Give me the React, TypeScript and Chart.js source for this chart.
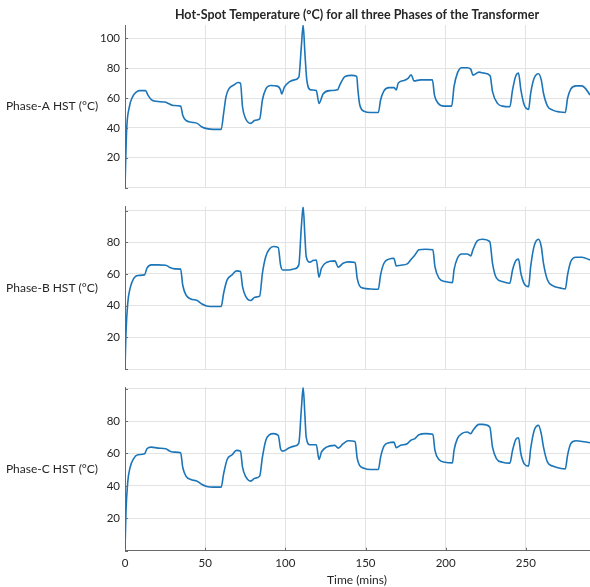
import React, { useEffect, useRef } from 'react';
import { Chart, registerables } from 'chart.js';

Chart.register(...registerables);

// ---- Data ----
const timeA = [0, 1, 2.7, 4.8, 7, 9, 12.8, 14.3, 16.4, 19.5, 24.8, 27, 30, 34.7, 36, 38, 41.6, 45, 48, 51, 55, 60, 61.5, 63, 64.7, 68, 70.4, 72, 73.3, 75.2, 78.4, 81, 84, 85.7, 87.8, 91, 95, 97, 97.7, 99.4, 102.5, 105.7, 108.4, 110, 111.1, 112.2, 113.4, 115.8, 119.3, 121, 123.5, 127.7, 132.6, 134, 137.2, 141.4, 144.5, 145.3, 146.3, 147.5, 149, 153, 158, 159.4, 161.5, 164.6, 167.7, 169.2, 170.4, 174, 176.7, 178.5, 180.2, 184.4, 191.7, 193, 195.4, 199, 203.75, 205.2, 207.3, 210, 213.5, 215.6, 217, 220.8, 224, 227.7, 229.2, 232.3, 235.4, 240, 241.7, 243.75, 245.4, 246.9, 249, 251.7, 253, 255.2, 257.9, 259.6, 261, 263.5, 266.7, 271.25, 274.6, 276, 278, 281.25, 285, 287.5, 290];
const phaseA = [0, 38, 54, 61, 64, 65, 65, 62, 59, 57.8, 57.3, 56.4, 55, 54.6, 48.5, 45, 43.8, 43, 40.6, 39.5, 39, 39, 49.7, 61, 66, 68.8, 70.4, 70, 54, 46.3, 43, 45, 46, 58.7, 66, 68.4, 68, 65.5, 62.7, 67.3, 70.9, 72.2, 74, 94.8, 109, 90, 72, 65.5, 65, 56.4, 62.7, 65, 65.5, 68.8, 74.5, 75.2, 74.5, 65, 56, 52.5, 51.2, 50.3, 50.3, 58.7, 64.8, 67, 67, 65.5, 70, 71.8, 73.4, 75.6, 71.5, 72.2, 72.2, 62, 56.4, 54.6, 54.6, 67.7, 76.7, 80.3, 80.3, 79.4, 75.4, 77.4, 76.7, 75, 64.3, 56.4, 54.6, 54.2, 65.5, 75, 76.7, 65.5, 55.3, 52.4, 63.2, 73.4, 76.3, 72.2, 63.2, 54.6, 51.9, 50.6, 50.3, 59.8, 66, 68.2, 68.2, 66, 62];

const timeB = [0, 0.6, 1.7, 3.2, 5.3, 8, 12.2, 13.7, 16.4, 20.6, 25.4, 28, 31.1, 34.7, 36, 38, 41, 45, 48, 51, 55, 60, 61.5, 63.7, 66.8, 69.5, 72, 73.3, 75.2, 78.4, 81, 84, 85.7, 87.8, 90, 92.6, 95.6, 97, 98.3, 102.5, 105.7, 108.4, 110, 111.1, 112.2, 113, 115.3, 117.2, 119.3, 121, 122.5, 125.6, 130.9, 133, 136, 139.3, 143.5, 144.8, 146.3, 149, 153, 158, 159.4, 161.5, 164.6, 167.7, 169.2, 171.9, 176, 178.1, 180.8, 183.3, 187.5, 192, 193.3, 195.8, 199.6, 204.2, 205.2, 207.3, 210, 213.5, 215.6, 217, 219.8, 222.9, 227.5, 229.2, 231.7, 235.4, 240, 241.7, 243.75, 245.4, 246.9, 249, 251.7, 253, 255.2, 257.9, 259.6, 261, 263.5, 266.7, 271.25, 274.6, 276, 278, 281.25, 285, 290];
const phaseB = [0, 22.5, 41.5, 51, 56.8, 59, 59.4, 63.6, 65.7, 65.7, 65.5, 64, 63.2, 63, 53, 46.7, 44.2, 43.2, 41, 39.8, 39.4, 39.4, 47.8, 56.2, 59.4, 61.9, 61.5, 52, 46, 43.2, 45.3, 46, 60.4, 71, 75.6, 77.3, 76.6, 65.7, 62.5, 62.5, 63.2, 65.7, 90, 102.4, 83.6, 71, 67.4, 68.4, 68.8, 57.9, 63.6, 67.2, 68.2, 64.2, 66.7, 67.6, 67.2, 57.3, 52.4, 50.9, 50.5, 50.3, 59.4, 66.7, 69.3, 69.9, 65, 65.5, 66.3, 68.8, 72, 75.2, 75.6, 75.2, 64.6, 57.3, 55.2, 54.5, 62.5, 69.9, 72.6, 72.6, 71.4, 75.2, 81, 81.9, 80.4, 66.7, 57.3, 55.2, 54.1, 62.5, 68.4, 69.3, 60.4, 53.7, 52, 64.6, 77.7, 81.9, 77.3, 66.7, 56.2, 52.6, 51.2, 50.5, 59.4, 67.8, 70.5, 70.5, 68.8];

const timeC = [0, 0.6, 1.7, 3.2, 5.3, 8, 12.2, 13.7, 16.4, 20.6, 25.4, 28, 31.1, 34.7, 36, 38, 41, 45, 48, 51, 55, 60, 61.5, 63.7, 66.8, 69.5, 72, 73.3, 75.2, 78.4, 81, 84, 85.7, 87.8, 90, 92.6, 95.6, 97, 98.3, 102.5, 105.7, 108.4, 110, 111.1, 112.2, 113, 115.3, 119.3, 121, 122.5, 125.6, 130.9, 133, 136, 139.3, 143.5, 144.8, 146.3, 149, 153, 158, 159.4, 161.5, 164.6, 167.7, 169.2, 171.9, 176, 178.1, 180.8, 183.3, 187.5, 192, 193.3, 195.8, 199.6, 204.2, 205.2, 207.3, 210, 213.5, 215.6, 217, 220.8, 222.9, 227.5, 229.2, 231.7, 235.4, 240, 241.7, 243.75, 245.4, 246.9, 249, 251.7, 253, 255.2, 257.9, 259.6, 261, 263.5, 266.7, 271.25, 274.6, 276, 278, 281.25, 285, 290];
const phaseC = [0, 23.7, 42.3, 51.5, 56.7, 59.2, 59.8, 62.9, 63.9, 63.3, 62.9, 61.4, 60.8, 60.4, 51.5, 46, 43.9, 42.9, 40.8, 39.6, 39.2, 39.2, 47.4, 56.3, 59.2, 61.9, 61.4, 51.5, 45.8, 42.9, 44.7, 46, 57.7, 68, 71.5, 72.2, 71.1, 62.9, 61.4, 63.5, 64.5, 66.4, 87.6, 100.8, 83.5, 70, 65.4, 65.4, 56.3, 60.8, 63.9, 65, 63.3, 66, 67.8, 67.4, 57.1, 52.6, 50.9, 50.1, 50.1, 57.7, 64.5, 66.6, 67, 63.5, 65, 66, 68, 69.1, 71.5, 72.2, 71.8, 61.9, 56.3, 54.6, 54.2, 61.9, 69.1, 72.2, 73.2, 72.2, 74.2, 77.9, 77.9, 76.3, 63.9, 56.7, 54.6, 54, 61.9, 68.7, 69.7, 59.8, 53.6, 52.2, 62.9, 74.2, 77.3, 72.2, 63.9, 54.6, 52.2, 50.9, 50.5, 58.8, 66, 67.8, 67.4, 66.6];

const xTickValues = [0, 50, 100, 150, 200, 250];
const yTickValues = [0, 20, 40, 60, 80, 100];
const yLabels = ['Phase-A HST (°C)', 'Phase-B HST (°C)', 'Phase-C HST (°C)'];
const titleText = 'Hot-Spot Temperature (°C) for all three Phases of the Transformer';
const xTitleText = 'Time (mins)';
const X_MAX = 290;
const yMaxes = [109, 102.4, 100.8];

// ---- Layout ----
const W = 590;
const H = 587;
const PLOT_LEFT = 125;
const panels = [
  { top: 25, bottom: 187.5 },
  { top: 206.7, bottom: 369 },
  { top: 387.3, bottom: 550.7 },
];
const FONT = 'Lato, "Open Sans", sans-serif';
const TEXT = '#262626';
const LINE = '#1b75b8';
const GRID = '#e3e3e3';
const AXIS = '#6a6a6a';

function PanelChart({ idx }: { idx: number }) {
  const ref = useRef<HTMLCanvasElement | null>(null);
  useEffect(() => {
    const canvas = ref.current;
    if (!canvas) return;
    const times = [timeA, timeB, timeC][idx];
    const vals = [phaseA, phaseB, phaseC][idx];
    const p = panels[idx];
    const showX = idx === 2;
    const xH = showX ? H - p.bottom : 0;
    const textPlugin = {
      id: 'panelText' + idx,
      afterDraw(chart: any) {
        const ctx = chart.ctx;
        const area = chart.chartArea;
        const ys = chart.scales.y;
        const xs = chart.scales.x;
        ctx.save();
        // inward tick marks (MATLAB style)
        ctx.strokeStyle = AXIS;
        ctx.lineWidth = 1;
        ctx.beginPath();
        yTickValues.forEach((v) => {
          if (v > ys.max) return;
          const py = Math.round(ys.getPixelForValue(v)) + 0.5;
          ctx.moveTo(area.left, py);
          ctx.lineTo(area.left + 3, py);
        });
        if (showX) {
          xTickValues.forEach((v) => {
            const px = Math.round(xs.getPixelForValue(v)) + 0.5;
            ctx.moveTo(px, area.bottom);
            ctx.lineTo(px, area.bottom - 3);
          });
        }
        ctx.stroke();
        ctx.fillStyle = TEXT;
        ctx.textAlign = 'center';
        ctx.textBaseline = 'middle';
        ctx.font = '12px ' + FONT;
        ctx.fillText(yLabels[idx], 52, (p.top + p.bottom) / 2);
        if (idx === 0) {
          ctx.font = 'bold 12.5px ' + FONT;
          ctx.fillText(titleText, 357, 15);
        }
        if (showX) {
          ctx.font = '12px ' + FONT;
          ctx.fillText(xTitleText, 357, 580);
        }
        ctx.restore();
      },
    };
    const chart = new Chart(canvas, {
      type: 'line',
      data: {
        datasets: [
          {
            data: times.map((t, i) => ({ x: t, y: vals[i] })),
            borderColor: LINE,
            borderWidth: 1.6,
            pointRadius: 0,
            fill: false,
            cubicInterpolationMode: 'monotone',
          },
        ],
      },
      options: {
        responsive: false,
        animation: false,
        events: [],
        layout: { padding: { top: p.top, bottom: H - p.bottom - xH, left: 0, right: 0 } },
        plugins: { legend: { display: false }, title: { display: false }, tooltip: { enabled: false } },
        scales: {
          x: {
            type: 'linear',
            min: 0,
            max: X_MAX,
            afterFit: (s: any) => { s.height = xH; },
            afterBuildTicks: (s: any) => { s.ticks = xTickValues.map((v) => ({ value: v })); },
            ticks: {
              display: showX,
              includeBounds: false,
              padding: 6,
              color: TEXT,
              font: { family: FONT, size: 11.5 },
              maxRotation: 0,
            },
            grid: { color: GRID, drawTicks: false, lineWidth: 1 },
            border: { display: showX, color: AXIS, width: 1 },
          },
          y: {
            type: 'linear',
            min: 0,
            max: yMaxes[idx],
            afterFit: (s: any) => { s.width = PLOT_LEFT; },
            afterBuildTicks: (s: any) => { s.ticks = yTickValues.map((v) => ({ value: v })); },
            ticks: {
              includeBounds: false,
              padding: 5,
              color: TEXT,
              font: { family: FONT, size: 11.5 },
              callback: (v: any) => (v === 0 || (idx > 0 && v === 100) ? '' : String(v)),
            },
            grid: { color: GRID, drawTicks: false, lineWidth: 1 },
            border: { display: true, color: AXIS, width: 1 },
          },
        },
      },
      plugins: [textPlugin],
    } as any);
    return () => chart.destroy();
  }, [idx]);
  return (
    <canvas
      ref={ref}
      width={W}
      height={H}
      style={{ position: 'absolute', left: 0, top: 0, width: W, height: H }}
    />
  );
}

export default function App() {
  return (
    <div style={{ position: 'fixed', left: 0, top: 0, width: W, height: H, background: '#fff' }}>
      <PanelChart idx={0} />
      <PanelChart idx={1} />
      <PanelChart idx={2} />
    </div>
  );
}
